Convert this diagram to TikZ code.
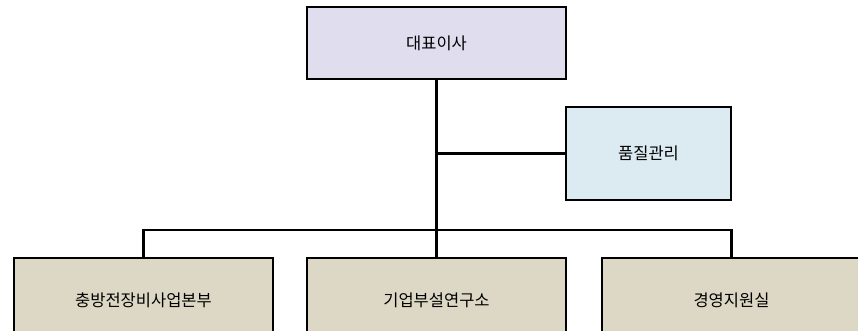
\documentclass[tikz,border=0pt]{standalone}
\usepackage{fontspec}
\setmainfont{Noto Sans CJK KR}
\definecolor{ceofill}{RGB}{224,222,238}
\definecolor{qafill}{RGB}{220,235,241}
\definecolor{deptfill}{RGB}{221,216,197}
\begin{document}
\begin{tikzpicture}[
        x=1pt, y=1pt,
        thick,
        font=\fontsize{16.5}{20}\selectfont
    ]
    \tikzset{
        boxn/.style = {rectangle, draw=black, line width=2.8pt, align=center},
        boxceo/.style = {boxn, fill=ceofill, minimum width=259pt, minimum height=72pt},
        boxqa/.style = {boxn, fill=qafill, minimum width=165pt, minimum height=93pt},
        boxdept/.style = {boxn, fill=deptfill, minimum width=259pt, minimum height=84pt},
        edgen/.style = {-, line width=2.3pt, black},
    }
    \useasboundingbox (0,0) rectangle (858,-330);
    \clip (0,0) rectangle (858,-330);
    \node[boxceo] at (436.5,-43.0) (ceo) {대표이사};
    \node[boxqa] at (648.5,-153.5) (qa) {품질관리};
    \node[boxdept] at (143.5,-300.0) (def) {충방전장비사업본부};
    \node[boxdept] at (436.5,-300.0) (lab) {기업부설연구소};
    \node[boxdept] at (731.5,-300.0) (mgmt) {경영지원실};
    \coordinate (bus) at (0,-230);
    %
    \draw[edgen] (ceo.south) -- (lab.north);
    \draw[edgen] (ceo.south |- qa.west) -- (qa.west);
    %
    \draw[edgen] (def.north) -- (def.north |- bus) -- (mgmt.north |- bus) -- (mgmt.north);
\end{tikzpicture}
\end{document}
